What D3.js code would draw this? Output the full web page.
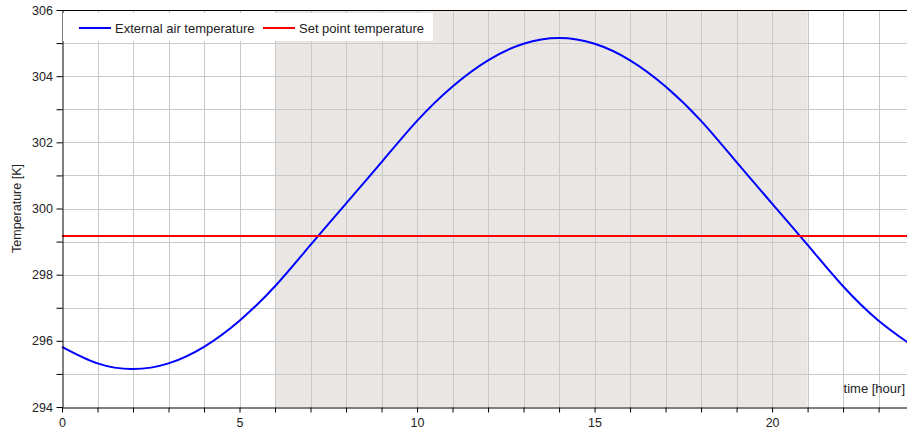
<!DOCTYPE html>
<html>
<head>
<meta charset="utf-8">
<script src="https://cdn.jsdelivr.net/npm/d3@7"></script>
<style>
  body { margin: 0; background: #fff; }
  svg { display: block; font-family: "Liberation Sans", Arial, sans-serif; }
</style>
</head>
<body>
<div id="chart"></div>
<script>
// hourly readings of the outdoor air temperature [K]
const hours = [0, 1, 2, 3, 4, 5, 6, 7, 8, 9, 10, 11, 12, 13, 14, 15, 16, 17, 18, 19, 20, 21, 22, 23, 24];
const airTemp = [295.82, 295.32, 295.15, 295.32, 295.82, 296.61, 297.65, 298.9, 300.15, 301.4,
                 302.65, 303.69, 304.48, 304.98, 305.15, 304.98, 304.48, 303.69, 302.65, 301.4,
                 300.15, 298.9, 297.65, 296.61, 295.82];
const setPoint = 299.17;
const occupied = [6, 21];           // shaded band, hours
const xTickLabels = [0, 5, 10, 15, 20];
const yTickLabels = [294, 296, 298, 300, 302, 304, 306];
const legendItems = [
  { name: "External air temperature", color: "#0000ff" },
  { name: "Set point temperature", color: "#ff0000" }
];

function draw() {
  const width = 907, height = 432;
  const left = 62, top = 10, bottom = 407;

  const svg = d3.select("#chart").append("svg")
    .attr("width", width)
    .attr("height", height);

  const x = d3.scaleLinear().domain([0, 23.8]).range([left, width]);
  const y = d3.scaleLinear().domain([294, 306]).range([bottom, top]);

  // occupied period
  svg.append("rect")
    .attr("x", x(occupied[0]))
    .attr("y", top)
    .attr("width", x(occupied[1]) - x(occupied[0]))
    .attr("height", bottom - top)
    .attr("fill", "#e9e6e3");

  // grid
  const grid = svg.append("g").attr("stroke", "#c9c9c9").attr("stroke-width", 1);
  grid.selectAll("line.v")
    .data(d3.range(1, 24))
    .join("line")
    .attr("class", "v")
    .attr("x1", d => Math.round(x(d)) + 0.5).attr("x2", d => Math.round(x(d)) + 0.5)
    .attr("y1", top).attr("y2", bottom);
  grid.selectAll("line.h")
    .data(d3.range(295, 306))
    .join("line")
    .attr("class", "h")
    .attr("y1", d => Math.round(y(d)) + 0.5).attr("y2", d => Math.round(y(d)) + 0.5)
    .attr("x1", left).attr("x2", width);

  // curves
  const line = d3.line()
    .x((d, i) => x(hours[i]))
    .y(d => y(d))
    .curve(d3.curveNatural);

  svg.append("path")
    .datum(airTemp)
    .attr("fill", "none")
    .attr("stroke", legendItems[0].color)
    .attr("stroke-width", 2)
    .attr("d", line);

  svg.append("line")
    .attr("x1", left).attr("x2", width)
    .attr("y1", y(setPoint)).attr("y2", y(setPoint))
    .attr("stroke", legendItems[1].color)
    .attr("stroke-width", 2);

  // axes
  const xAxis = d3.axisBottom(x)
    .tickValues(d3.range(0, 24))
    .tickSize(5)
    .tickSizeOuter(0)
    .tickFormat(d => xTickLabels.includes(d) ? d : "");
  const gx = svg.append("g")
    .attr("transform", `translate(0,${bottom + 0.5})`)
    .call(xAxis);

  const yAxis = d3.axisLeft(y)
    .tickValues(d3.range(294, 307))
    .tickSize(6)
    .tickSizeOuter(0)
    .tickFormat(d => yTickLabels.includes(d) ? d : "");
  const gy = svg.append("g")
    .attr("transform", `translate(${left + 0.5},0)`)
    .call(yAxis);

  [gx, gy].forEach(g => {
    g.select(".domain").attr("stroke", "#000");
    g.selectAll(".tick line").attr("stroke", "#000");
    g.selectAll(".tick text")
      .attr("fill", "#222")
      .style("font-size", "12.5px")
      .style("font-family", "Liberation Sans, Arial, sans-serif");
  });
  gx.selectAll(".tick text").attr("dy", "0.9em");
  gy.selectAll(".tick text").attr("dx", "-0.05em");

  // top border
  svg.append("line")
    .attr("x1", left).attr("x2", width)
    .attr("y1", top + 0.5).attr("y2", top + 0.5)
    .attr("stroke", "#000");

  // axis titles
  svg.append("text")
    .attr("transform", `translate(21,${(top + bottom) / 2}) rotate(-90)`)
    .attr("text-anchor", "middle")
    .attr("fill", "#222")
    .style("font-size", "12.5px")
    .text("Temperature [K]");

  svg.append("text")
    .attr("x", width - 2)
    .attr("y", 393)
    .attr("text-anchor", "end")
    .attr("fill", "#222")
    .style("font-size", "13px")
    .text("time [hour]");

  // legend
  const lg = svg.append("g");
  lg.append("rect")
    .attr("x", left + 1).attr("y", 13)
    .attr("width", 370).attr("height", 28)
    .attr("fill", "#fff");
  const offsets = [79, 263];
  legendItems.forEach((item, i) => {
    const g = lg.append("g").attr("transform", `translate(${offsets[i]},28)`);
    g.append("line")
      .attr("x1", 0).attr("x2", 32)
      .attr("stroke", item.color)
      .attr("stroke-width", 2);
    g.append("text")
      .attr("x", 36).attr("dy", "0.35em")
      .attr("fill", "#222")
      .style("font-size", "13px")
      .text(item.name);
  });
}

document.addEventListener("DOMContentLoaded", draw);
</script>
</body>
</html>
